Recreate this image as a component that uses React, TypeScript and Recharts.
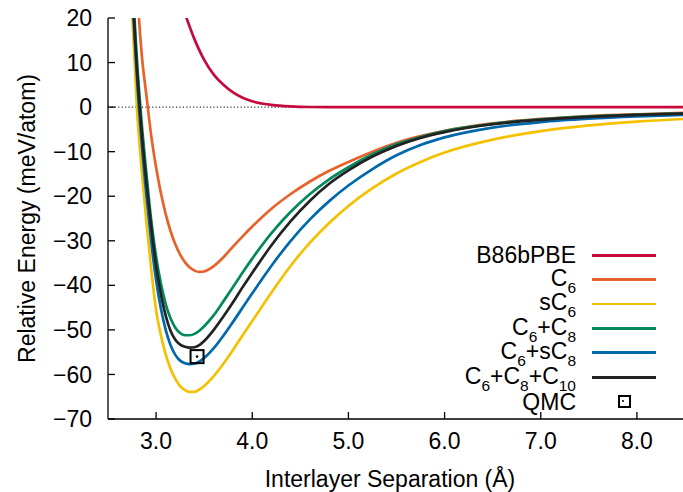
import React from 'react';
import { ComposedChart, Line, Scatter, XAxis, YAxis, ReferenceLine, Legend } from 'recharts';

// interlayer separation grid (Å) shared by the dispersion-corrected curves
const sepX = [2.7, 2.75, 2.8, 2.85, 2.9, 2.95, 3.0, 3.05, 3.1, 3.15, 3.2, 3.25, 3.3, 3.35, 3.4, 3.45, 3.5, 3.6, 3.7, 3.8, 3.9, 4.0, 4.2, 4.4, 4.6, 4.8, 5.0, 5.25, 5.5, 5.75, 6.0, 6.5, 7.0, 7.5, 8.0, 8.5];

// relative energies (meV/atom)
const c6 = [95, 55, 28, 12, 2.5, -6.5, -13.5, -19.3, -24.0, -27.8, -30.8, -33.1, -34.8, -36.0, -36.7, -37.0, -36.9, -35.7, -33.7, -31.3, -29.0, -26.8, -22.8, -19.5, -16.7, -14.3, -12.3, -10.0, -8.0, -6.5, -5.3, -3.65, -2.65, -2.0, -1.6, -1.3];
const sc6 = [52, 22, 0, -14, -26, -36.5, -45.5, -51.2, -55.5, -58.7, -61.0, -62.6, -63.5, -63.9, -63.9, -63.4, -62.6, -60.4, -57.6, -54.5, -51.2, -48.0, -41.6, -35.6, -30.4, -26.0, -22.2, -18.2, -14.9, -12.3, -10.2, -7.3, -5.4, -4.1, -3.25, -2.65];
const c6c8 = [60, 31, 11, -3.5, -15, -25.5, -33.5, -39.6, -44.2, -47.4, -49.5, -50.7, -51.2, -51.2, -50.9, -50.2, -49.2, -46.7, -43.6, -40.4, -37.1, -34.0, -28.3, -23.5, -19.5, -16.2, -13.5, -10.6, -8.3, -6.7, -5.4, -3.75, -2.75, -2.1, -1.7, -1.4];
const c6sc8 = [56, 27, 7, -8, -20, -30.3, -38.8, -45.2, -50.0, -53.4, -55.6, -56.9, -57.5, -57.7, -57.6, -57.1, -56.3, -54.1, -51.3, -48.2, -45.0, -41.8, -35.6, -30.0, -25.2, -21.1, -17.6, -13.9, -10.8, -8.5, -6.8, -4.6, -3.35, -2.6, -2.1, -1.75];
const c6c8c10 = [58, 29, 9, -5.5, -17, -27, -35.5, -42, -46.8, -50.2, -52.2, -53.3, -53.8, -54.0, -53.9, -53.4, -52.5, -50.0, -47.0, -43.8, -40.4, -37.2, -31.0, -25.6, -21.0, -17.2, -14.2, -11.1, -8.7, -6.9, -5.6, -3.85, -2.85, -2.2, -1.75, -1.45];

// plain functional, no dispersion
const pbeX = [3.0, 3.1, 3.2, 3.3, 3.4, 3.5, 3.6, 3.7, 3.8, 3.9, 4.0, 4.2, 4.4, 4.6, 4.8, 5.0, 5.5, 6.0, 7.0, 8.0, 8.5];
const pbeE = [55, 38, 27.5, 21, 15.2, 10.6, 7.3, 5.0, 3.3, 2.1, 1.3, 0.5, 0.15, 0.02, 0, 0, 0, 0, 0, 0, 0];

const qmcX = [3.426];
const qmcE = [-56.0];

const xTicks = [3, 4, 5, 6, 7, 8];
const yTicks = [-70, -60, -50, -40, -30, -20, -10, 0, 10, 20];

const FONT = '"Liberation Sans", Arial, Helvetica, sans-serif';
const FS = 23;

const toRows = (xs: number[], ys: number[]) => xs.map((x, i) => ({ x, y: ys[i] }));

const series = [
  { name: 'B86bPBE', color: '#c60a3c', rows: toRows(pbeX, pbeE) },
  { name: 'C_6', color: '#e8622b', rows: toRows(sepX, c6) },
  { name: 'sC_6', color: '#f4c100', rows: toRows(sepX, sc6) },
  { name: 'C_6+C_8', color: '#03895c', rows: toRows(sepX, c6c8) },
  { name: 'C_6+sC_8', color: '#0068ab', rows: toRows(sepX, c6sc8) },
  { name: 'C_6+C_8+C_10', color: '#222222', rows: toRows(sepX, c6c8c10) },
];

const qmcRows = toRows(qmcX, qmcE);

// "C_6+C_8" -> C with lowered small digits
const renderName = (name: string) => {
  const parts = name.split(/(_\d+)/).filter(Boolean);
  return parts.map((p, i) =>
    p.startsWith('_') ? (
      <span key={i} style={{ fontSize: 15.5, position: 'relative', top: 7 }}>{p.slice(1)}</span>
    ) : (
      <span key={i}>{p}</span>
    )
  );
};

const fmtY = (v: number) => (v < 0 ? '\u2212' + Math.abs(v) : String(v));

const QmcBox = (props: any) => {
  const { cx, cy } = props;
  return (
    <g>
      <rect x={cx - 6.5} y={cy - 6.5} width={13} height={13} fill="none" stroke="#000" strokeWidth={2} />
      <circle cx={cx} cy={cy} r={1.3} fill="#000" />
    </g>
  );
};

const KeyBox = () => (
  <div style={{ position: 'relative', width: 64, height: 24 }}>
    <div
      style={{
        position: 'absolute',
        left: 25.5,
        top: 5.5,
        width: 9,
        height: 9,
        border: '2px solid #000',
      }}
    />
    <div style={{ position: 'absolute', left: 30, top: 10, width: 2.4, height: 2.4, background: '#000', borderRadius: 2 }} />
  </div>
);

const renderLegend = () => (
  <div style={{ fontFamily: FONT, fontSize: FS, color: '#000' }}>
    {series.map((s) => (
      <div key={s.name} style={{ display: 'flex', alignItems: 'center', height: 24.4 }}>
        <div style={{ width: 196, textAlign: 'right', lineHeight: '24px', whiteSpace: 'nowrap' }}>{renderName(s.name)}</div>
        <div style={{ width: 16 }} />
        <div style={{ width: 64, height: 2.8, background: s.color }} />
      </div>
    ))}
    <div style={{ display: 'flex', alignItems: 'center', height: 24.4 }}>
      <div style={{ width: 196, textAlign: 'right', lineHeight: '24px' }}>QMC</div>
      <div style={{ width: 16 }} />
      <KeyBox />
    </div>
  </div>
);

export default function App() {
  return (
    <div
      style={{
        position: 'fixed',
        left: 0,
        top: 0,
        width: 683,
        height: 492,
        overflow: 'hidden',
        background: '#fff',
        fontFamily: FONT,
      }}
    >
      <ComposedChart width={690} height={492} margin={{ top: 18, right: 5, bottom: 0, left: 0 }}>
        <XAxis
          xAxisId={0}
          dataKey="x"
          type="number"
          domain={[2.5, 8.5]}
          ticks={xTicks}
          allowDataOverflow
          height={73}
          tickSize={-7}
          tickMargin={21}
          tickFormatter={(v: number) => v.toFixed(1)}
          tick={{ fontSize: FS, fill: '#000' }}
          stroke="#000"
          strokeWidth={1.3}
          label={{
            content: () => (
              <text x={390} y={487} textAnchor="middle" fontSize={FS} fill="#000" fontFamily={FONT}>
                Interlayer Separation (Å)
              </text>
            ),
          }}
        />
        <XAxis
          xAxisId="top"
          orientation="top"
          dataKey="x"
          type="number"
          domain={[2.5, 8.5]}
          ticks={xTicks}
          allowDataOverflow
          height={0}
          tickSize={-7}
          tick={false}
          stroke="#000"
          strokeWidth={1.3}
        />
        <YAxis
          yAxisId={0}
          type="number"
          domain={[-70, 20]}
          ticks={yTicks}
          allowDataOverflow
          width={108}
          tickSize={-7}
          tickMargin={23}
          tickFormatter={fmtY}
          tick={{ fontSize: FS, fill: '#000' }}
          stroke="#000"
          strokeWidth={1.3}
          label={{
            content: () => (
              <text
                x={35}
                y={218.5}
                transform="rotate(-90 35 218.5)"
                textAnchor="middle"
                fontSize={FS}
                fill="#000"
                fontFamily={FONT}
              >
                Relative Energy (meV/atom)
              </text>
            ),
          }}
        />
        <YAxis
          yAxisId="right"
          orientation="right"
          type="number"
          domain={[-70, 20]}
          ticks={yTicks}
          allowDataOverflow
          width={0}
          tickSize={-7}
          tick={false}
          stroke="#000"
          strokeWidth={1.3}
        />
        <ReferenceLine y={0} stroke="#000" strokeWidth={1} strokeDasharray="1.2 2.2" />
        {series.map((s) => (
          <Line
            key={s.name}
            data={s.rows}
            dataKey="y"
            type="monotone"
            stroke={s.color}
            strokeWidth={2.7}
            dot={false}
            activeDot={false}
            isAnimationActive={false}
          />
        ))}
        <Scatter data={qmcRows} dataKey="y" shape={<QmcBox />} isAnimationActive={false} />
        <Legend
          content={renderLegend}
          layout="vertical"
          verticalAlign="middle"
          align="center"
          wrapperStyle={{ position: 'absolute', left: 380, top: 243, width: 290 }}
        />
      </ComposedChart>
    </div>
  );
}
